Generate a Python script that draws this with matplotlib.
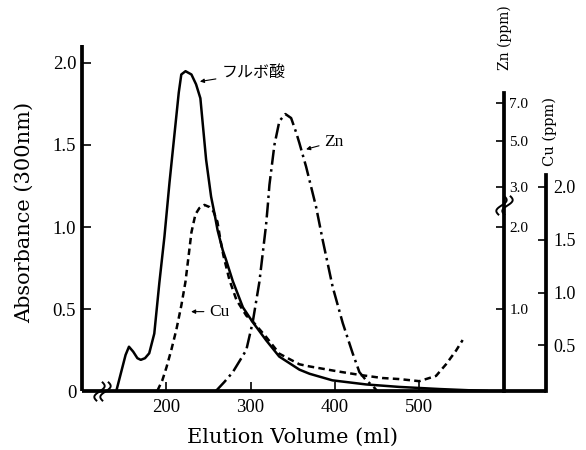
import numpy as np
import matplotlib
matplotlib.use("Agg")
import matplotlib.pyplot as plt
from matplotlib.path import Path

plt.rcParams['font.family'] = ['Liberation Serif', 'DejaVu Serif']

# ---------------- data ----------------
fulvic_volume = [141, 147, 152, 156, 161, 166, 170, 175, 180, 186, 192, 198, 204, 210,
                 215, 218, 223, 230, 235.5, 240.6, 243.4, 247.4, 253.3, 257.2, 261, 267,
                 271, 279, 291, 302.6, 318.4, 334, 358, 370, 397, 437, 476, 524, 580]
fulvic_abs = [0.0, 0.12, 0.22, 0.27, 0.24, 0.20, 0.19, 0.20, 0.23, 0.35, 0.66, 0.94, 1.27, 1.57,
              1.82, 1.93, 1.95, 1.93, 1.87, 1.785, 1.63, 1.41, 1.185, 1.085, 0.98, 0.86,
              0.80, 0.67, 0.51, 0.42, 0.31, 0.21, 0.13, 0.105, 0.065, 0.04, 0.025, 0.012, 0.0]

cu_volume = [189.7, 195.6, 200.4, 206.3, 212.2, 218.1, 222.9, 226.4, 230, 234.7, 239.4,
             245.4, 251.3, 256, 260.8, 264.3, 267.9, 275, 283.3, 295.1, 302.2, 318.4,
             334.2, 357.9, 369.7, 405.3, 428.8, 456, 476, 500, 519.8, 531.6, 543.5, 551.3]
cu_ppm = [0.07, 0.17, 0.29, 0.46, 0.65, 0.88, 1.10, 1.33, 1.57, 1.74, 1.80,
          1.83, 1.81, 1.77, 1.67, 1.50, 1.35, 1.12, 0.93, 0.78, 0.73, 0.58,
          0.42, 0.32, 0.30, 0.25, 0.22, 0.19, 0.18, 0.16, 0.21, 0.32, 0.45, 0.55]

zn_volume = [259, 269, 279, 295, 302.6, 310.5, 318.4, 320.5, 322.4, 328.3, 334.2, 341.3,
             348.1, 354.3, 357.9, 365.8, 377.7, 385.5, 397.3, 409.2, 421, 429, 437, 445, 450]
zn_ppm = [0.0, 0.11, 0.23, 0.50, 0.84, 1.33, 2.05, 2.55, 3.09, 4.83, 6.05, 6.42,
          6.21, 5.42, 4.91, 3.89, 2.50, 1.84, 1.27, 0.83, 0.46, 0.23, 0.13, 0.06, 0.0]

x_ticks = [200, 300, 400, 500]
x_ticklabels = ['200', '300', '400', '500']
abs_ticks = [0, 0.5, 1.0, 1.5, 2.0]
abs_ticklabels = ['0', '0.5', '1.0', '1.5', '2.0']
zn_ticks = [1, 2, 3, 5, 7]
zn_ticklabels = ['1.0', '2.0', '3.0', '5.0', '7.0']
cu_ticks = [0.5, 1.0, 1.5, 2.0]
cu_ticklabels = ['0.5', '1.0', '1.5', '2.0']

# ---------------- scales ----------------
ABS_MAX = 2.11
# broken Zn scale: ppm knots -> absorbance-equivalent height
ZN_KNOTS = np.array([-10.0, 0.0, 2.0, 3.0, 5.0, 7.0, 30.0])
ZN_H = np.array([-5.0, 0.0, 1.0, 1.244, 1.524, 1.756, 1.756 + 23 * 0.116])


def zn_forward(z):
    return np.interp(z, ZN_KNOTS, ZN_H)


def zn_inverse(h):
    return np.interp(h, ZN_H, ZN_KNOTS)


CU_ZERO_H = -0.043   # height of 0 ppm Cu in absorbance units
CU_SLOPE = 0.6435    # absorbance units per ppm Cu

# ---------------- figure ----------------
fig = plt.figure(figsize=(5.86, 4.5), dpi=100)
ax = fig.add_axes([0.1394, 0.1311, 0.7923, 0.769])
ax.set_xlim(100, 650)
ax.set_ylim(0, ABS_MAX)

SPINE_W = 2.7
for s in ['top', 'right']:
    ax.spines[s].set_visible(False)
for s in ['left', 'bottom']:
    ax.spines[s].set_linewidth(SPINE_W)
    ax.spines[s].set_capstyle('butt')

ax.set_xticks(x_ticks)
ax.set_xticklabels(x_ticklabels)
ax.set_yticks(abs_ticks)
ax.set_yticklabels(abs_ticklabels)
ax.tick_params(axis='both', direction='in', length=6.5, width=1.2, labelsize=13.5)
ax.tick_params(axis='x', pad=6)
ax.tick_params(axis='y', pad=4)

ax.set_xlabel('Elution Volume (ml)', family='DejaVu Serif', fontsize=15)
ax.xaxis.set_label_coords(0.455, -0.133)
ax.xaxis.label.set_va('center')
ax.set_ylabel('Absorbance (300nm)', family='DejaVu Serif', fontsize=15)
ax.yaxis.set_label_coords(-0.124, 0.517)
ax.yaxis.label.set_va('center')

LW = 1.8
ax.plot(fulvic_volume, fulvic_abs, color='black', lw=LW, solid_joinstyle='round')

# Zn axis (broken scale)
ax_zn = ax.twinx()
ax_zn.set_yscale('function', functions=(zn_forward, zn_inverse))
ax_zn.set_ylim(float(zn_inverse(0.0)), float(zn_inverse(ABS_MAX)))
for s in ['left', 'top', 'bottom']:
    ax_zn.spines[s].set_visible(False)
ax_zn.spines['right'].set_position(('data', 600))
ax_zn.spines['right'].set_linewidth(SPINE_W)
ax_zn.spines['right'].set_bounds(0, 7.55)
ax_zn.set_yticks(zn_ticks)
ax_zn.set_yticklabels(zn_ticklabels)
ax_zn.yaxis.set_minor_locator(matplotlib.ticker.NullLocator())
ax_zn.tick_params(axis='y', direction='in', length=6, width=1.2, labelsize=11, pad=4)
ax_zn.plot(zn_volume, zn_ppm, color='black', lw=LW,
           linestyle=(0, (6.0, 1.8, 1.0, 1.8)))

# Cu axis
ax_cu = ax.twinx()
cu_lo = (0 - CU_ZERO_H) / CU_SLOPE
cu_hi = (ABS_MAX - CU_ZERO_H) / CU_SLOPE
ax_cu.set_ylim(cu_lo, cu_hi)
for s in ['left', 'top', 'bottom']:
    ax_cu.spines[s].set_visible(False)
ax_cu.spines['right'].set_linewidth(SPINE_W)
ax_cu.spines['right'].set_bounds(cu_lo, 2.11)
ax_cu.set_yticks(cu_ticks)
ax_cu.set_yticklabels(cu_ticklabels)
ax_cu.tick_params(axis='y', direction='in', length=6, width=1.2, labelsize=13, pad=5)
ax_cu.plot(cu_volume, cu_ppm, color='black', lw=LW, linestyle=(0, (2.6, 1.7)))

# axis titles of the concentration axes
fig.text(505 / 586, 1 - 38 / 450, 'Zn (ppm)', rotation=90, ha='center', va='center',
         family='DejaVu Serif', fontsize=10)
fig.text(550 / 586, 1 - 131 / 450, 'Cu (ppm)', rotation=90, ha='center', va='center',
         family='DejaVu Serif', fontsize=10.5)

# annotations
arrow = dict(arrowstyle='-|>', lw=0.8, color='black', mutation_scale=6, shrinkA=2, shrinkB=0)
ax.annotate('フルボ酸', xy=(240, 1.887), xytext=(265.5, 1.94), ha='left', va='center',
            family=['Noto Sans CJK JP', 'DejaVu Sans'], fontsize=11.5, arrowprops=arrow)
ax.annotate('Zn', xy=(365.8, 1.474), xytext=(387.6, 1.52), ha='left', va='center',
            fontsize=12.5, arrowprops=arrow)
ax.annotate('Cu', xy=(229.6, 0.484), xytext=(251.3, 0.484), ha='left', va='center',
            fontsize=12.5, arrowprops=arrow)

# break marks (integral-like "ʃ" strokes)
t = np.linspace(0, 1, 50)
yy = t - 0.5
s_path = Path(np.column_stack([0.2 * np.sin(2 * np.pi * yy) + 0.25 * yy, yy]))
for xb in (120.5, 127.5):
    ax.plot([xb], [0], marker=s_path, markersize=14, mfc='none', mec='black', mew=1.4,
            clip_on=False, zorder=5)
for xb in (596.4, 603.6):
    ax.plot([xb], [1.134], marker=s_path, markersize=14, mfc='none', mec='black', mew=1.4,
            clip_on=False, zorder=5)

fig.savefig('out.png', dpi=100)
